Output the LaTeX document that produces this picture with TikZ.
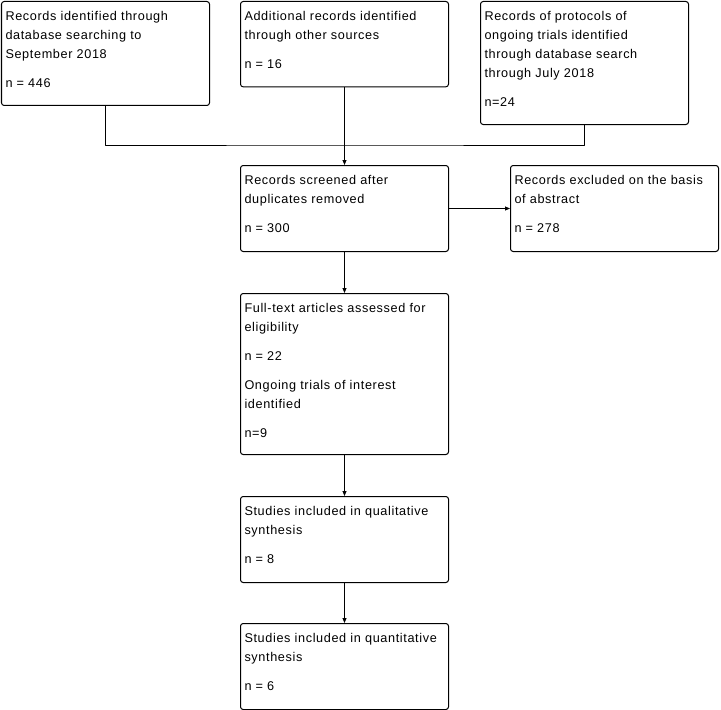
\documentclass[tikz,border=0pt]{standalone}
\usepackage{fontspec}
\usetikzlibrary{arrows.meta}

\newfontfamily\boxfont{Liberation Sans}[LetterSpace=5]

\tikzstyle{box}=[draw, black, line width = 0.75pt, rounded corners=2pt, anchor=north west, inner xsep=3pt, inner ysep=0pt, font={\boxfont\fontsize{9.5}{14.25}\selectfont}]
\tikzstyle{link}=[black, line width = 0.75pt, line join=round]
\tikzstyle{arrow}=[link, -{Triangle[length=3.75pt,width=3pt]}]

% box text: height, then the lines, top aligned
\newcommand{\boxtext}[2]{\parbox[t][#1][t]{150pt}{\raggedright\rule{0pt}{14.25pt}#2}}

\begin{document}
\begin{tikzpicture}
	
	\def\gap{7.5pt} % extra space before the counts
	
	% one unit is one pixel of the 721 x 710 page, y pointing down
	\begin{scope}[x=0.75pt, y=-0.75pt]
		
		\useasboundingbox (0,0) rectangle (721,710);
		
		% Identification
		\node[box] (records) at (1,1) {\boxtext{78pt}{Records identified through\\database searching to\\September 2018\\[\gap]n = 446}};
		\node[box] (additional) at (240,1) {\boxtext{64pt}{Additional records identified\\through other sources\\[\gap]n = 16}};
		\node[box] (protocols) at (480,1) {\boxtext{92.25pt}{Records of protocols of\\ongoing trials identified\\through database search\\through July 2018\\[\gap]n=24}};
		
		% Screening
		\node[box] (screened) at (240,165) {\boxtext{64.5pt}{Records screened after\\duplicates removed\\[\gap]n = 300}};
		\node[box] (excluded) at (510,165) {\boxtext{64.5pt}{Records excluded on the basis\\of abstract\\[\gap]n = 278}};
		
		% Eligibility and inclusion
		\node[box] (fulltext) at (240,293) {\boxtext{120.75pt}{Full-text articles assessed for\\eligibility\\[\gap]n = 22\\[\gap]Ongoing trials of interest\\identified\\[\gap]n=9}};
		\node[box] (qualitative) at (240,496) {\boxtext{64.5pt}{Studies included in qualitative\\synthesis\\[\gap]n = 8}};
		\node[box] (quantitative) at (240,623) {\boxtext{64.5pt}{Studies included in quantitative\\synthesis\\[\gap]n = 6}};
		
		\coordinate (merge) at (345,145);
		
		\draw[link] (records.south) |- (merge) -| (protocols.south);
		\draw[arrow] (additional) -- (screened);
		\draw[arrow] (screened) -- (excluded);
		\draw[arrow] (screened) -- (fulltext);
		\draw[arrow] (fulltext) -- (qualitative);
		\draw[arrow] (qualitative) -- (quantitative);
		
	\end{scope}
	
\end{tikzpicture}
\end{document}
